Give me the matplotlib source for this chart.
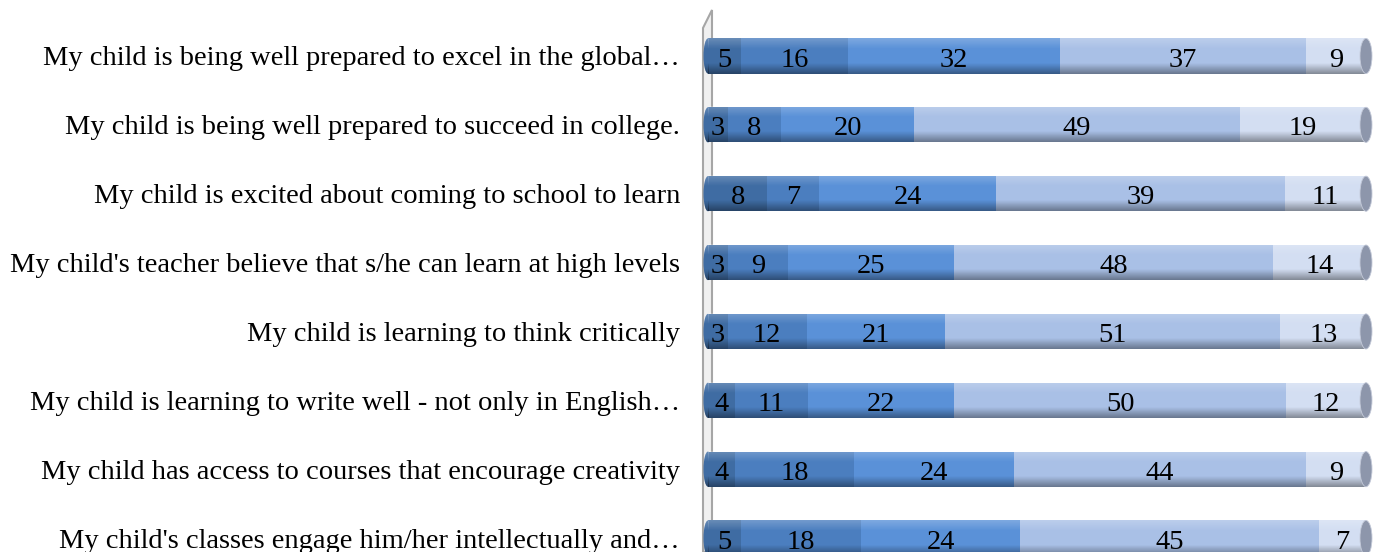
import numpy as np
import matplotlib
matplotlib.use("Agg")
from matplotlib import pyplot as plt
from matplotlib.patches import Ellipse, Polygon

statements = [
    "My child is being well prepared to excel in the global\u2026",
    "My child is being well prepared to succeed in college.",
    "My child is excited about coming to school to learn",
    "My child's teacher believe that s/he can learn at high levels",
    "My child is learning to think critically",
    "My child is learning to write well - not only in English\u2026",
    "My child has access to courses that encourage creativity",
    "My child's classes engage him/her intellectually and\u2026",
]
strongly_disagree = [5, 3, 8, 3, 3, 4, 4, 5]
disagree = [16, 8, 7, 9, 12, 11, 18, 18]
neutral = [32, 20, 24, 25, 21, 22, 24, 24]
agree = [37, 49, 39, 48, 51, 50, 44, 45]
strongly_agree = [9, 19, 11, 14, 13, 12, 9, 7]

series = [strongly_disagree, disagree, neutral, agree, strongly_agree]
colors = ["#3f6ca3", "#4b7ebf", "#5a91d8", "#a9c0e6", "#d3def2"]

W, H = 1381, 552
fig = plt.figure(figsize=(W / 100, H / 100), dpi=100)
font = "Liberation Serif"
fsize = 20.5


def fx(px):
    return px / W


def fy(py):
    return 1 - py / H


# back wall of the 3d chart
wall = Polygon([(fx(703), fy(552)), (fx(703), fy(28)), (fx(712), fy(10)),
                (fx(712), fy(544)), (fx(706), fy(552))],
               closed=True, transform=fig.transFigure, facecolor="#f0f0f0",
               edgecolor="#a6a6a6", linewidth=1.5, zorder=-1)
fig.patches.append(wall)

# x=0 at 708 px, x=100 at 1366 px
scale = (1366 - 708) / 100
ax = fig.add_axes([fx(698), 0, (1378 - 698) / W, 1])
ax.set_facecolor("none")

data = np.array(series, dtype=float)
totals = data.sum(axis=0)
pct = data / totals * 100
y = np.arange(len(statements))
bh = 0.51

# gradient for the cylinder look
n = 64
t = np.linspace(0, 1, n)
grad = np.zeros((n, 1, 4))
top = np.clip(0.22 * (1 - t / 0.3), 0, None)
bot = np.clip(0.38 * (t - 0.7) / 0.3, 0, None)
grad[:, 0, :3] = np.where(t[:, None] < 0.5, 1.0, 0.0)
grad[:, 0, 3] = top + bot

cap_w = 9 / scale
end_w = 12 / scale
left = np.zeros(len(statements))
for k, (vals, c) in enumerate(zip(pct, colors)):
    ax.barh(y, vals, left=left, height=bh, color=c, edgecolor="none", zorder=2)
    for i in range(len(statements)):
        ax.text(left[i] + vals[i] / 2, y[i] + 0.06, f"{series[k][i]:d}",
                ha="center", va="center", fontsize=fsize, family=font, zorder=6)
    left += vals

for i in range(len(statements)):
    e = Ellipse((0, y[i]), cap_w, bh, facecolor=colors[0], edgecolor="none",
                zorder=2, clip_on=False)
    ax.add_patch(e)
    ax.imshow(grad, extent=(0, 100, y[i] + bh / 2, y[i] - bh / 2),
              aspect="auto", zorder=3, interpolation="bilinear")
    im = ax.imshow(grad, extent=(-cap_w / 2, 0, y[i] + bh / 2, y[i] - bh / 2),
                   aspect="auto", zorder=3, interpolation="bilinear")
    im.set_clip_path(e)
    ax.add_patch(Ellipse((100, y[i]), end_w, bh, facecolor="#8d96ab",
                         edgecolor="#c3c9d8", linewidth=0.6, zorder=4, clip_on=False))

ax.set_xlim(-10 / scale, 100 + 12 / scale)
ax.set_ylim(7.203, -0.813)
ax.set_yticks(y)
ax.set_yticklabels(statements, family=font, fontsize=fsize)
ax.tick_params(axis="y", length=0, pad=18 * 0.72)
ax.set_xticks([])
for s in ax.spines.values():
    s.set_visible(False)

fig.savefig("out.png", dpi=100)
